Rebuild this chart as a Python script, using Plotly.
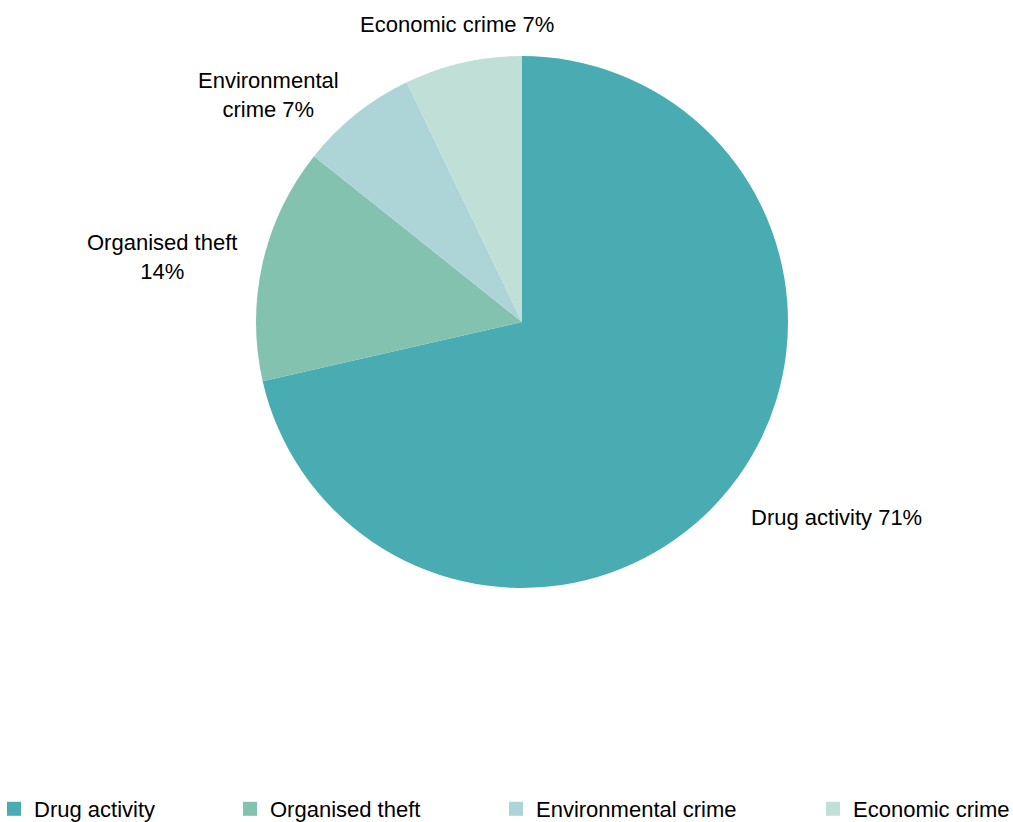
import math
import plotly.graph_objects as go

categories = ["Drug activity", "Organised theft", "Environmental crime", "Economic crime"]
values = [10, 2, 1, 1]
label_prefix = ["Drug activity ", "Organised theft<br>", "Environmental<br>crime ", "Economic crime "]
colors = ["#48ACB2", "#83C2AF", "#ADD5D7", "#C0E0D7"]

W, H = 1013, 822
cx, cy, r = 522, 322, 266
FONT = "Liberation Sans, Arial, sans-serif"
legend_left_px = [12, 248, 514, 831]
label_gap = 24

fig = go.Figure()
fig.add_trace(go.Pie(
    labels=categories,
    values=values,
    textinfo="none",
    sort=False,
    direction="clockwise",
    rotation=0,
    marker=dict(colors=colors, line=dict(color="white", width=0)),
    domain=dict(x=[(cx - r) / W, (cx + r) / W], y=[1 - (cy + r) / H, 1 - (cy - r) / H]),
    hoverinfo="label+percent",
    showlegend=False,
))

# outside data labels, placed at each slice's mid-angle
total = sum(values)
cum = 0
annotations = []
for v, pre in zip(values, label_prefix):
    mid = (cum + v / 2) / total * 2 * math.pi  # clockwise from 12 o'clock
    cum += v
    dx, dy = math.sin(mid), -math.cos(mid)  # screen coords (y down)
    px = cx + (r + label_gap) * dx
    py = cy + (r + label_gap) * dy
    xa = "left" if dx > 0.35 else ("right" if dx < -0.35 else "center")
    ya = "top" if dy > 0.5 else ("bottom" if dy < -0.9 else "middle")
    pct = round(100 * v / total)
    annotations.append(dict(
        x=px / W, y=1 - py / H, xref="paper", yref="paper",
        text=f"{pre}{pct}%", showarrow=False,
        xanchor=xa, yanchor=ya, align="center",
        font=dict(family=FONT, size=22, color="#000000"),
    ))

# legend entries (one legend per entry to reproduce the spacing)
for i, (cat, col) in enumerate(zip(categories, colors)):
    lname = "legend" if i == 0 else f"legend{i+1}"
    fig.add_trace(go.Scatter(
        x=[None], y=[None], mode="markers", name=cat,
        marker=dict(symbol="square", size=14, color=col),
        showlegend=True, legend=lname, hoverinfo="skip",
    ))

layout_legends = {}
for i, lx in enumerate(legend_left_px):
    lname = "legend" if i == 0 else f"legend{i+1}"
    layout_legends[lname] = dict(
        orientation="h",
        x=(lx - 18) / W, xanchor="left",
        y=1 - 809 / H, yanchor="middle",
        font=dict(family=FONT, size=22, color="#000000"),
        bgcolor="rgba(0,0,0,0)",
        itemwidth=30,
    )

fig.update_layout(
    width=W, height=H,
    margin=dict(l=0, r=0, t=0, b=0, autoexpand=False),
    paper_bgcolor="white",
    plot_bgcolor="white",
    font=dict(family=FONT, size=22, color="#000000"),
    xaxis=dict(visible=False),
    yaxis=dict(visible=False),
    annotations=annotations,
    **layout_legends,
)

fig.write_html("out.html")
